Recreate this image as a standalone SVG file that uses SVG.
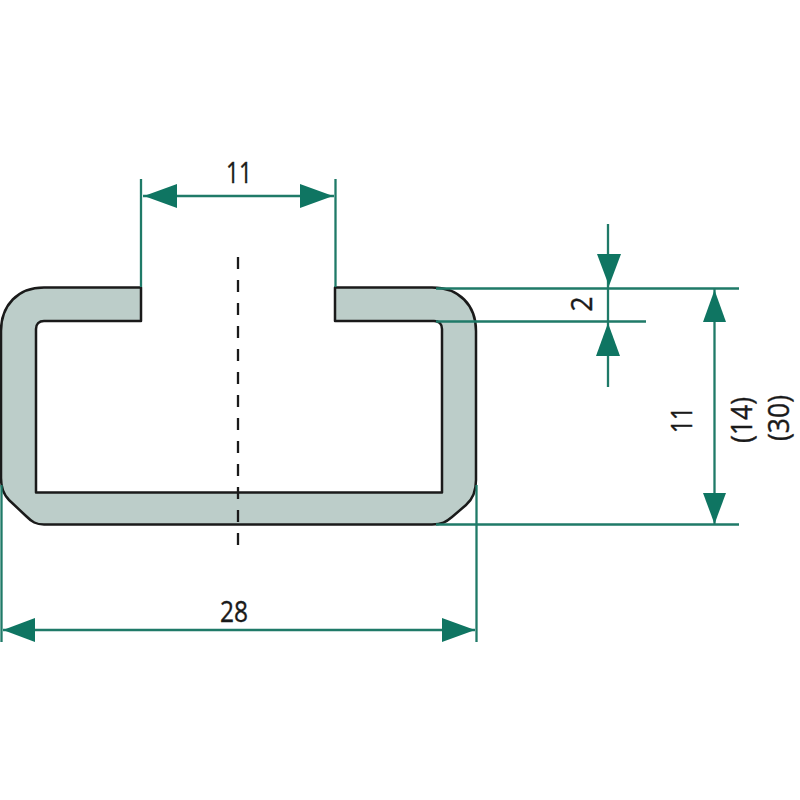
<svg xmlns="http://www.w3.org/2000/svg" width="800" height="800" viewBox="0 0 800 800">
<style>
.dim{stroke:#1f7a68;stroke-width:2.300;fill:none}
.head{fill:#0f7562;stroke:none}
.t{font-family:"Open Sans","Noto Sans",sans-serif;font-size:30px;fill:#1a1a1a;stroke:#1a1a1a;stroke-width:0.400;text-anchor:middle}
</style>
<rect width="800" height="800" fill="#fff"/>
<g id="profile">
<path d="M141 287.500H44C18 287.500 1 305 1 331V478C1 488 3 494 9 500L26 516C32 522 36 524.500 44 524.500H432C442 524.500 446 522 452 517L466 505C473 499 476 492 476 480V331C476 305 459 287.500 432 287.500H335V321H434C439 321 442 324 442 329V492.500H36V329C36 324 39 321 44 321H141Z" fill="#bccdc9" stroke="#1a1a1a" stroke-width="2.500" stroke-linejoin="round"/>
</g>
<path id="centerline" d="M238 257V545" stroke="#1a1a1a" stroke-width="2.300" stroke-dasharray="12 11" fill="none"/>
<g id="connectors">
<path class="dim" d="M141 179V287M335.500 179V287M143 196H334"/>
<path class="dim" d="M436 288.500H739M436 321.500H646M436 524.500H739"/>
<path class="dim" d="M608 224V387M714.500 289V524"/>
<path class="dim" d="M1.500 485V642M476.500 485V642M3 630H475"/>
<polygon class="head" points="144,196 177,184 177,208"/>
<polygon class="head" points="333,196 300,184 300,208"/>
<polygon class="head" points="609,286 597,254 621,254"/>
<polygon class="head" points="608,323 596,356 620,356"/>
<polygon class="head" points="714.500,290 703,322 726,322"/>
<polygon class="head" points="714.500,524 703,493 726,493"/>
<polygon class="head" points="3,630 35,618 35,642"/>
<polygon class="head" points="475,630 442,618 442,642"/>
</g>
<g id="labels">
<text class="t" x="239" y="183" textLength="26" lengthAdjust="spacingAndGlyphs">11</text>
<text class="t" x="234" y="622" textLength="28" lengthAdjust="spacingAndGlyphs">28</text>
<text class="t" transform="translate(592 304) rotate(-90)" textLength="15" lengthAdjust="spacingAndGlyphs">2</text>
<text class="t" transform="translate(692 420) rotate(-90)" textLength="26" lengthAdjust="spacingAndGlyphs">11</text>
<text class="t" transform="translate(752 420) rotate(-90)" textLength="46" lengthAdjust="spacingAndGlyphs">(14)</text>
<text class="t" transform="translate(789 418) rotate(-90)" textLength="46" lengthAdjust="spacingAndGlyphs">(30)</text>
</g>
</svg>
